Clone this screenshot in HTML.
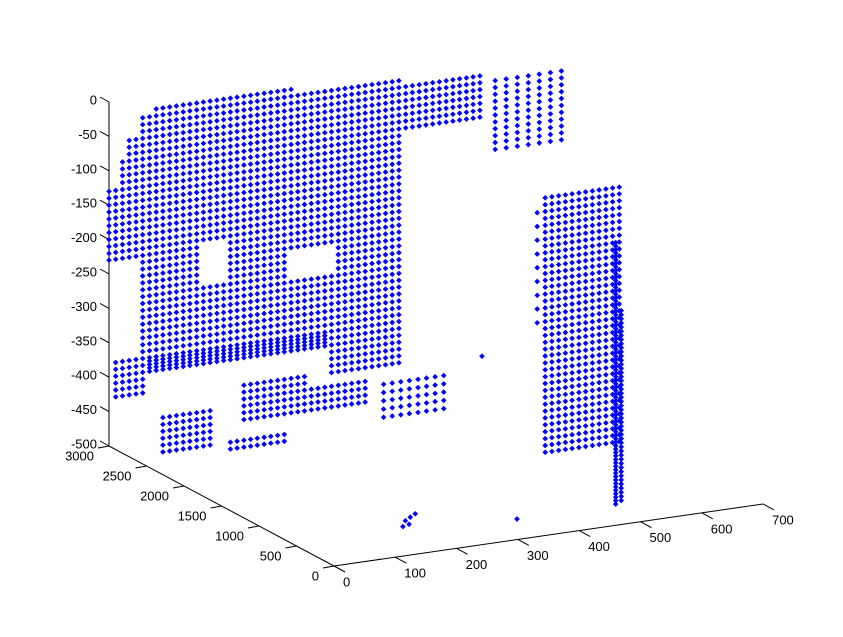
<!DOCTYPE html>
<html><head><meta charset="utf-8">
<style>
html,body{margin:0;padding:0;background:#fff;}
svg{display:block;}
text{font-family:"Liberation Sans",Arial,sans-serif;font-size:13px;fill:#000;}
</style></head>
<body>
<svg id="chart" width="843" height="637" viewBox="0 0 843 637" xmlns="http://www.w3.org/2000/svg">
<rect width="843" height="637" fill="#fff"/>
<g id="axes"></g>
<g id="points"></g>
</svg>
<script>
// ---- data ----
const xTicks = [0,100,200,300,400,500,600,700];
const yTicks = [0,500,1000,1500,2000,2500,3000];
const zTicks = [0,-50,-100,-150,-200,-250,-300,-350,-400,-450,-500];
// surface patches: [xStart, xEnd, zBottom, zTop, depthY, stepX, stepZ]
const wallPatches = [
  [0,300,-230,-12,3000,11,10],
  [300,475,-230,-25,3000,11,10],
  [475,613,-105,-35,3000,11,10],
  [55,483,-400,-230,3000,11,10],
  [360,483,-440,-400,3000,11,10],
  [11,59,-430,-380,3000,11,10],
  [88,173,-523,-464,3000,11,10],
  [220,328,-490,-440,3000,11,10],
  [198,290,-537,-515,3000,11,10],
  [330,425,-495,-452,3000,11,10],
  [440,548,-525,-467,3000,14,12],
  [630,740,-150,-50,3000,18,10],
  [66,360,-404,-380,3000,11,5],
  [526,658,-498,-119,1500,11,10],
  [515,515,-310,-130,1500,11,20],
  [643,643,-581,-196,1500,11,5],
  [652,652,-581,-300,1500,11,6]
];
// holes: [xStart, xEnd, zBottom, zTop, depthY]
const holes = [
  [0,11,-120,0,3000],
  [11,22,-80,0,3000],
  [22,44,-50,0,3000],
  [44,66,-25,0,3000],
  [144,194,-285,-222,3000],
  [290,365,-291,-257,3000],
  [476,484,-230,-106,3000]
];
// isolated points: [x, y, z]
const isolated = [
  [425,1500,-337],[482,1500,-581],[300,1500,-560],[308,1500,-556],
  [316,1500,-552],[296,1500,-568],[306,1500,-566]
];

// ---- projection (axis functions) ----
function P(x,y,z){
  return [334 + x*0.613 - y*0.075, 566 - x*0.0886 - y*0.04 - (z+500)*0.688];
}
const NS='http://www.w3.org/2000/svg';
const axes=document.getElementById('axes');
const pts=document.getElementById('points');
function line(a,b,name){
  const l=document.createElementNS(NS,'line');
  l.setAttribute('x1',a[0]);l.setAttribute('y1',a[1]);
  l.setAttribute('x2',b[0]);l.setAttribute('y2',b[1]);
  l.setAttribute('stroke','#000');l.setAttribute('stroke-width','1');
  
  
  axes.appendChild(l);
}
function label(x,y,s,anchor,name){
  const t=document.createElementNS(NS,'text');
  t.setAttribute('x',x);t.setAttribute('y',y);
  t.setAttribute('text-anchor',anchor);t.setAttribute('dominant-baseline','central');
  t.textContent=s;
  
  
  axes.appendChild(t);
}
// z axis
line(P(0,3000,0),P(0,3000,-500),'z-axis');
zTicks.forEach(v=>{
  const p=P(0,3000,v);
  line(p,[p[0]-9,p[1]-5],'z-tick');
  label(p[0]-12,p[1]-2,String(v),'end','z-tick-label');
});
// y axis
line(P(0,3000,-500),P(0,0,-500),'y-axis');
yTicks.forEach(v=>{
  const p=P(0,v,-500);
  line(p,[p[0]-11,p[1]+2],'y-tick');
  label(p[0]-15,p[1]+10,String(v),'end','y-tick-label');
});
// x axis
line(P(0,0,-500),P(700,0,-500),'x-axis');
xTicks.forEach(v=>{
  const p=P(v,0,-500);
  line(p,[p[0]+11,p[1]+6],'x-tick');
  label(p[0]+9,p[1]+16,String(v),'start','x-tick-label');
});
// points
function inHole(x,z,d){
  return holes.some(h=>d===h[4]&&x>=h[0]&&x<=h[1]&&z>=h[2]&&z<=h[3]);
}
const seen = new Set();
function marker(x,y,z){
  const key=x+'_'+y+'_'+z;
  if(seen.has(key)) return;
  seen.add(key);
  const p=P(x,y,z);
  const m=document.createElementNS(NS,'path');
  const a=p[0].toFixed(1), b=p[1].toFixed(1);
  m.setAttribute('d','M'+(p[0]-2.4).toFixed(1)+','+b+'L'+a+','+(p[1]-2.4).toFixed(1)+'L'+(p[0]+2.4).toFixed(1)+','+b+'L'+a+','+(p[1]+2.4).toFixed(1)+'Z');
  m.setAttribute('fill','#0000ff');
  m.setAttribute('stroke','#0000ff');
  m.setAttribute('stroke-width','0.6');
  
  
  pts.appendChild(m);
}
wallPatches.forEach(pt=>{
  const [x0,x1,z0,z1,d,dx,dz]=pt;
  const i0=Math.ceil(x0/dx-1e-6), i1=Math.floor(x1/dx+1e-6);
  const j0=Math.ceil(z0/dz-1e-6), j1=Math.floor(z1/dz+1e-6);
  if(x0===x1){
    for(let j=j0;j<=j1;j++){ const z=+(j*dz).toFixed(2); if(!inHole(x0,z,d)) marker(x0,d,z); }
    return;
  }
  for(let i=i0;i<=i1;i++){
    const x=+(i*dx).toFixed(2);
    for(let j=j0;j<=j1;j++){
      const z=+(j*dz).toFixed(2);
      if(!inHole(x,z,d)) marker(x,d,z);
    }
  }
});
isolated.forEach(q=>marker(q[0],q[1],q[2]));
</script>
</body></html>
